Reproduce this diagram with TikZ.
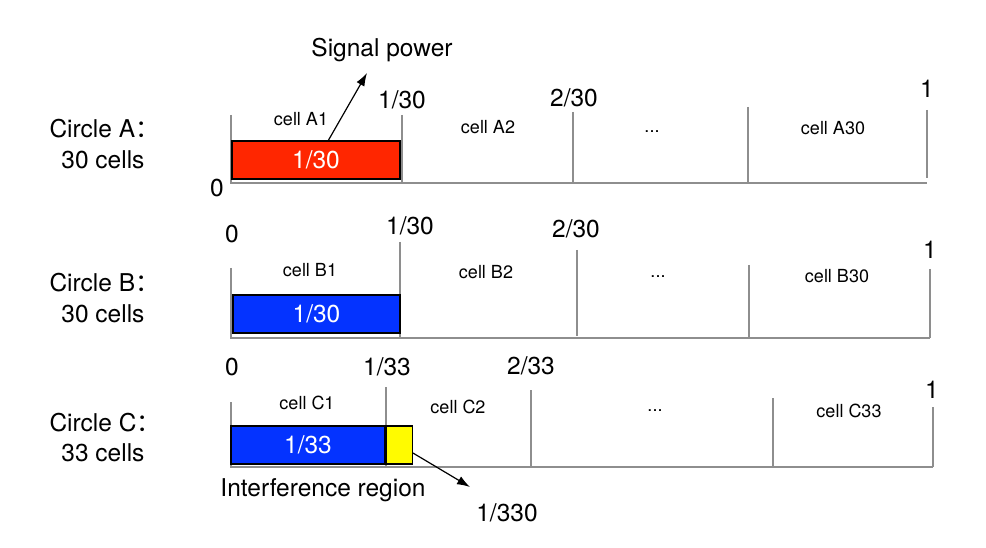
\documentclass[tikz,border=0pt]{standalone}
\usepackage{fontspec}
\setmainfont{TeX Gyre Heros}
\newfontfamily\cjk{Noto Sans CJK SC}
\usetikzlibrary{arrows.meta}

\definecolor{cellred}{HTML}{FF2600}
\definecolor{cellblue}{HTML}{0433FF}
\definecolor{cellyellow}{HTML}{FFFB00}
\definecolor{rulegray}{HTML}{8E8E8E}

\tikzset{
	ruler/.style={draw=rulegray, line width=1.2pt},
	bigtxt/.style={font=\fontsize{24.5}{24.5}\selectfont},
	smalltxt/.style={font=\fontsize{18}{18}\selectfont},
	power/.style={draw=black, line width=1.3pt, minimum height=38pt, inner sep=0pt,
		text=white, font=\fontsize{24.5}{24.5}\selectfont},
}

\begin{document}
\begin{tikzpicture}[
	>={Latex[length=13pt,width=9pt]},
	x=1pt,y=-1pt
	]
\useasboundingbox (0,0) rectangle (986,548);

% circle A
\draw[ruler] (231,115) -- (231,183) -- (927,183);
\draw[ruler] (402,115) -- (402,183);
\draw[ruler] (573,112) -- (573,183);
\draw[ruler] (748,107) -- (748,183);
\draw[ruler] (927,110) -- (927,178);

			\node[bigtxt, anchor=west] (circ_a)   at (46,129) {Circle A\cjk{：}};
			\node[bigtxt, anchor=east] (cnt_a)    at (148,160) {30 cells};
			\node[bigtxt] (a_0)    at (217,188) {0};
			\node[bigtxt] (a_1_30) at (402,100) {1/30};
			\node[bigtxt] (a_2_30) at (574,98) {2/30};
			\node[bigtxt] (a_1)    at (927,89) {1};
			\node[smalltxt] (cell_a1)  at (301,119) {cell A1};
			\node[smalltxt] (cell_a2)  at (488,127) {cell A2};
			\node[smalltxt] (dots_a)   at (652,132) {...};
			\node[smalltxt] (cell_a30) at (833,128) {cell A30};
			\node[power, fill=cellred, minimum width=168pt] (pow_a) at (316,160) {1/30};
			\node[bigtxt] (sig)    at (382,50) {Signal power};
			\coordinate (sig_foot) at (328,141);
			\coordinate (sig_tip)  at (367,73);

			\draw[->, line width=1.2pt] (sig_foot) -- (sig_tip);

% circle B
\draw[ruler] (231,268) -- (231,338) -- (930,338);
\draw[ruler] (400,242) -- (400,338);
\draw[ruler] (577,250) -- (577,336);
\draw[ruler] (749,265) -- (749,338);
\draw[ruler] (930,269) -- (930,338);

			\node[bigtxt, anchor=west] (circ_b)   at (46,283) {Circle B\cjk{：}};
			\node[bigtxt, anchor=east] (cnt_b)    at (148,314) {30 cells};
			\node[bigtxt] (b_0)    at (232,234) {0};
			\node[bigtxt] (b_1_30) at (410,226) {1/30};
			\node[bigtxt] (b_2_30) at (576,229) {2/30};
			\node[bigtxt] (b_1)    at (930,250) {1};
			\node[smalltxt] (cell_b1)  at (310,270) {cell B1};
			\node[smalltxt] (cell_b2)  at (486,272) {cell B2};
			\node[smalltxt] (dots_b)   at (658,277) {...};
			\node[smalltxt] (cell_b30) at (837,276) {cell B30};
			\node[power, fill=cellblue, minimum width=167pt] (pow_b) at (316.5,314) {1/30};

% circle C
\draw[ruler] (231,402) -- (231,467) -- (933,467);
\draw[ruler] (386,387) -- (386,467);
\draw[ruler] (531,390) -- (531,467);
\draw[ruler] (773,398) -- (773,467);
\draw[ruler] (933,407) -- (933,467);

			\node[bigtxt, anchor=west] (circ_c)   at (46,423) {Circle C\cjk{：}};
			\node[bigtxt, anchor=east] (cnt_c)    at (148,453) {33 cells};
			\node[bigtxt] (c_0)    at (232,367) {0};
			\node[bigtxt] (c_1_33) at (387,367) {1/33};
			\node[bigtxt] (c_2_33) at (531,366) {2/33};
			\node[bigtxt] (c_1)    at (932,390) {1};
			\node[smalltxt] (cell_c1)  at (307,403) {cell C1};
			\node[smalltxt] (cell_c2)  at (458,407) {cell C2};
			\node[smalltxt] (dots_c)   at (655,411) {...};
			\node[smalltxt] (cell_c33) at (849,411) {cell C33};
			\node[power, fill=cellblue, minimum width=154pt] (pow_c) at (308,445) {1/33};
			\node[power, fill=cellyellow, minimum width=26pt, anchor=west] (intf_c) at (pow_c.east) {};
			\node[bigtxt] (intf_lbl) at (323,490) {Interference region};
			\node[bigtxt] (c_1_330)  at (507,513) {1/330};
			\coordinate (intf_tip) at (470,487);

			\draw[->, line width=1.2pt] (intf_c.east |- 0,453) -- (intf_tip);

\end{tikzpicture}
\end{document}
